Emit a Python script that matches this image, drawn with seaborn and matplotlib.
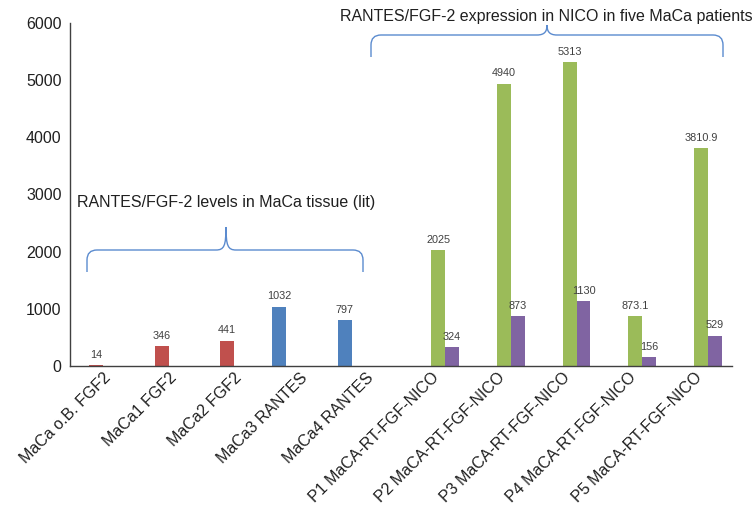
import matplotlib
matplotlib.use("Agg")
import matplotlib.pyplot as plt
from matplotlib.path import Path
from matplotlib.patches import PathPatch
import seaborn as sns
import pandas as pd

# data
categories = ["MaCa o.B. FGF2", "MaCa1 FGF2", "MaCa2 FGF2", "MaCa3 RANTES", "MaCa4 RANTES",
              "P1 MaCA-RT-FGF-NICO", "P2 MaCA-RT-FGF-NICO", "P3 MaCA-RT-FGF-NICO",
              "P4 MaCA-RT-FGF-NICO", "P5 MaCA-RT-FGF-NICO"]
fgf2_lit_cats = categories[0:3]
fgf2_lit = [14, 346, 441]
rantes_lit_cats = categories[3:5]
rantes_lit = [1032, 797]
nico_cats = categories[5:]
fgf_nico = [2025, 4940, 5313, 873.1, 3810.9]
rantes_nico = [324, 873, 1130, 156, 529]

series_order = ["RANTES lit", "FGF2 lit", "FGF NICO", "RANTES NICO"]
palette = {"RANTES lit": "#4F81BD", "FGF2 lit": "#C0504D",
           "FGF NICO": "#9BBB59", "RANTES NICO": "#8064A2"}

rows = []
for c, v in zip(fgf2_lit_cats, fgf2_lit):
    rows.append((c, v, "FGF2 lit"))
for c, v in zip(rantes_lit_cats, rantes_lit):
    rows.append((c, v, "RANTES lit"))
for c, v in zip(nico_cats, fgf_nico):
    rows.append((c, v, "FGF NICO"))
for c, v in zip(nico_cats, rantes_nico):
    rows.append((c, v, "RANTES NICO"))
df = pd.DataFrame(rows, columns=["cat", "value", "series"])

sns.set_theme(style="white")
plt.rcParams["font.family"] = ["Liberation Sans", "DejaVu Sans"]

W, H = 753, 508
fig = plt.figure(figsize=(W / 100, H / 100), dpi=100)
ax = fig.add_axes([70 / W, 1 - 366 / H, 662 / W, 343 / H])

sns.barplot(data=df, x="cat", y="value", hue="series", order=categories,
            hue_order=series_order, palette=palette, width=0.85,
            saturation=1, legend=False, linewidth=0, edgecolor="none", ax=ax)

for cont in ax.containers:
    ax.bar_label(cont, fmt="%g", padding=4, fontsize=7.8, color="#404040")

ax.set_ylim(0, 6000)
ax.set_xlim(-0.5, 9.58)
ax.set_yticks(range(0, 6001, 1000))
ax.set_xlabel("")
ax.set_ylabel("")
sns.despine(ax=ax)
for s in ["left", "bottom"]:
    ax.spines[s].set_color("#404040")
    ax.spines[s].set_linewidth(1.0)
ax.tick_params(axis="y", length=0, pad=6, labelsize=11.5, labelcolor="#202020")
ax.tick_params(axis="x", length=0, pad=3, labelsize=11.5, labelcolor="#202020")
plt.setp(ax.get_xticklabels(), rotation=45, ha="right", rotation_mode="anchor")


def px(x, y):
    return x / W, 1 - y / H


def brace(x0, x1, xm, yb, yh, yp, r=10):
    # curly brace in pixel coords, opening downward
    pts = [px(x0, yb), px(x0, yh + r), px(x0, yh), px(x0 + r, yh),
           px(xm - r, yh), px(xm - 2, yh), px(xm, yh - 4), px(xm, yp),
           px(xm, yh - 4), px(xm + 2, yh), px(xm + r, yh),
           px(x1 - r, yh), px(x1, yh), px(x1, yh + r), px(x1, yb)]
    codes = [Path.MOVETO, Path.LINETO, Path.CURVE3, Path.CURVE3,
             Path.LINETO, Path.CURVE4, Path.CURVE4, Path.CURVE4,
             Path.CURVE4, Path.CURVE4, Path.CURVE4,
             Path.LINETO, Path.CURVE3, Path.CURVE3, Path.LINETO]
    fig.patches.append(PathPatch(Path(pts, codes), transform=fig.transFigure,
                                 fill=False, edgecolor="#5B8BCF", lw=1.0))


brace(87, 363, 226, 272, 250, 227)
brace(371, 723, 547, 57, 35, 25)

fig.text(*px(77, 203), "RANTES/FGF-2 levels in MaCa tissue (lit)", fontsize=11.5,
         color="#202020", ha="left", va="center")
fig.text(*px(340, 17), "RANTES/FGF-2 expression in NICO in five MaCa patients",
         fontsize=11.5, color="#202020", ha="left", va="center")

fig.savefig("out.png", dpi=100)
plt.close(fig)
